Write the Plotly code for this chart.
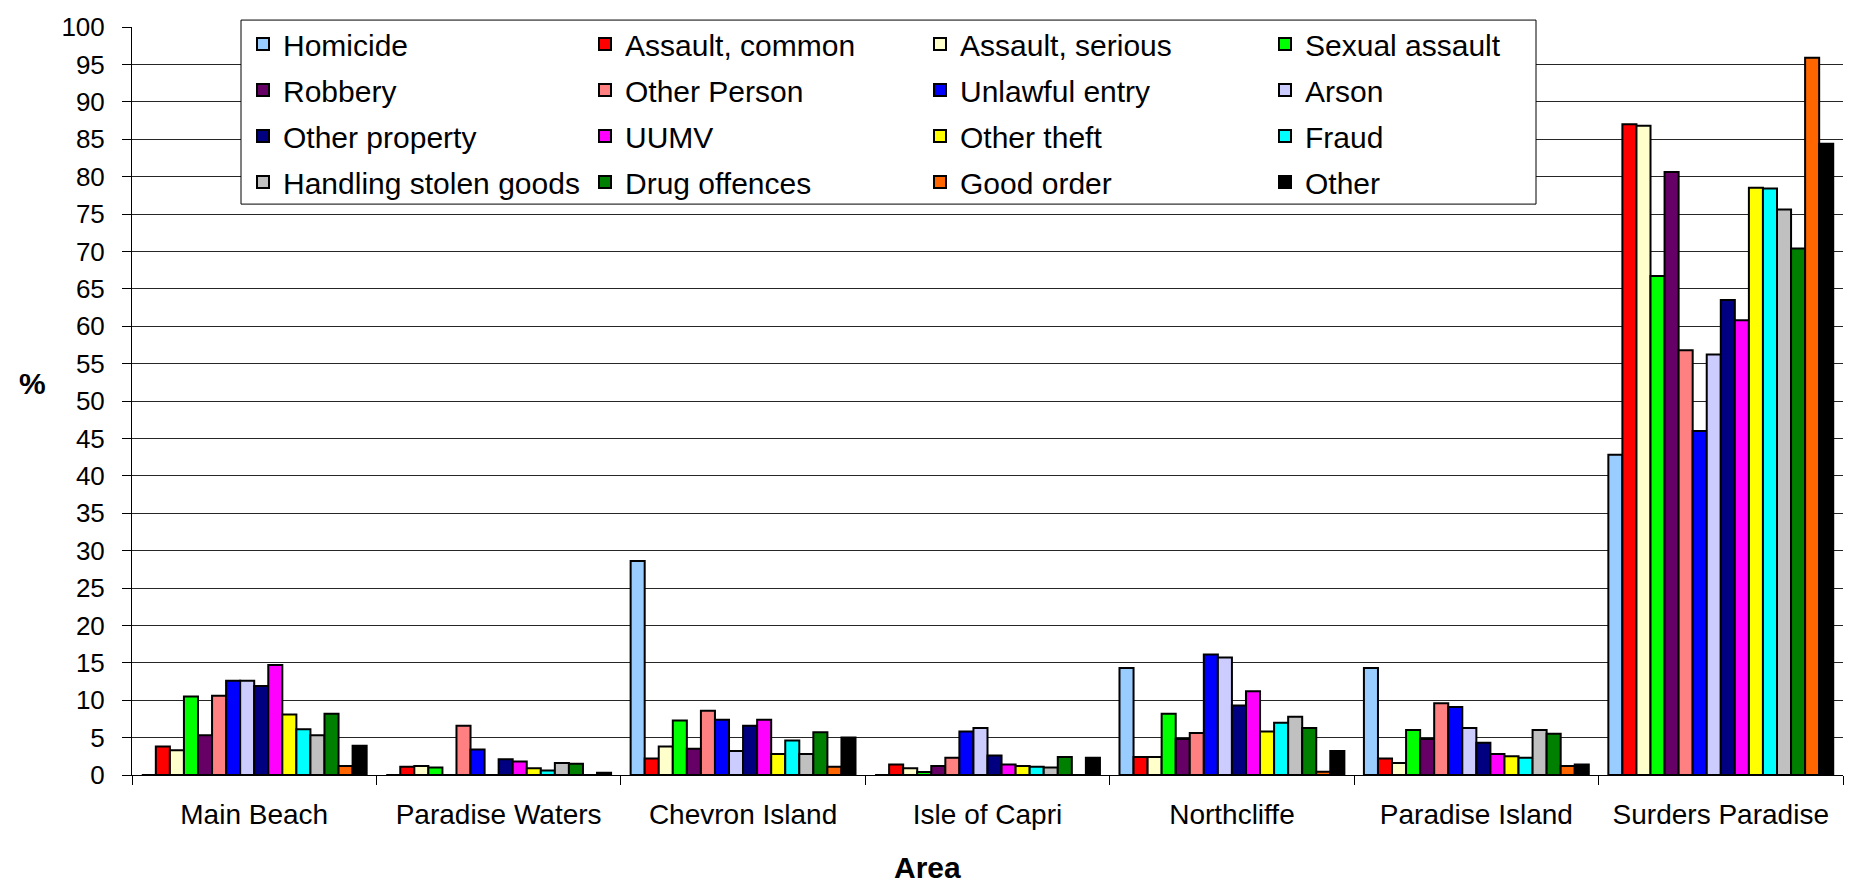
import plotly.graph_objects as go

# Areas along the x axis
areas = ["Main Beach", "Paradise Waters", "Chevron Island", "Isle of Capri",
         "Northcliffe", "Paradise Island", "Surders Paradise"]

# Offence categories and their fill colours
offences = ["Homicide", "Assault, common", "Assault, serious", "Sexual assault",
            "Robbery", "Other Person", "Unlawful entry", "Arson",
            "Other property", "UUMV", "Other theft", "Fraud",
            "Handling stolen goods", "Drug offences", "Good order", "Other"]
colors = ["#99CCFF", "#FF0000", "#FFFFCC", "#00FF00",
          "#660066", "#FF8080", "#0000FF", "#CCCCFF",
          "#000080", "#FF00FF", "#FFFF00", "#00FFFF",
          "#C0C0C0", "#008000", "#FF6600", "#000000"]

# Share of each offence recorded in each area (%)
homicide         = [0.0, 0.0, 28.6, 0.0, 14.3, 14.3, 42.8]
assault_common   = [3.8, 1.1, 2.2, 1.4, 2.4, 2.2, 87.0]
assault_serious  = [3.3, 1.2, 3.8, 0.9, 2.4, 1.6, 86.8]
sexual_assault   = [10.5, 1.0, 7.3, 0.4, 8.2, 6.0, 66.7]
robbery          = [5.3, 0.0, 3.5, 1.2, 4.8, 4.8, 80.6]
other_person     = [10.6, 6.6, 8.6, 2.3, 5.6, 9.6, 56.8]
unlawful_entry   = [12.6, 3.4, 7.4, 5.8, 16.1, 9.1, 46.0]
arson            = [12.6, 0.0, 3.2, 6.3, 15.7, 6.3, 56.2]
other_property   = [11.9, 2.1, 6.6, 2.6, 9.3, 4.3, 63.5]
uumv             = [14.7, 1.8, 7.4, 1.4, 11.2, 2.8, 60.8]
other_theft      = [8.1, 0.9, 2.8, 1.2, 5.8, 2.5, 78.5]
fraud            = [6.1, 0.6, 4.6, 1.1, 7.0, 2.3, 78.4]
handling_stolen  = [5.3, 1.6, 2.8, 1.0, 7.8, 6.0, 75.6]
drug_offences    = [8.2, 1.5, 5.7, 2.4, 6.3, 5.5, 70.4]
good_order       = [1.2, 0.0, 1.1, 0.0, 0.45, 1.2, 95.9]
other            = [3.9, 0.3, 5.0, 2.3, 3.2, 1.4, 84.4]

series = [homicide, assault_common, assault_serious, sexual_assault,
          robbery, other_person, unlawful_entry, arson,
          other_property, uumv, other_theft, fraud,
          handling_stolen, drug_offences, good_order, other]

y_ticks = list(range(0, 101, 5))

# Page geometry (pixels) and helpers to convert to paper coordinates
W, H = 1856, 883
L, R, T, B = 132, 13, 19, 108
PW, PH = W - L - R, H - T - B


def px_x(x):
    return (x - L) / PW


def px_y(y):
    return (H - B - y) / PH


FONT = "Liberation Sans, Arial, sans-serif"

fig = go.Figure()
for i, (name, vals, col) in enumerate(zip(offences, series, colors)):
    leg = "legend" if i % 4 == 0 else f"legend{i % 4 + 1}"
    fig.add_trace(go.Bar(
        x=areas, y=vals, name=name,
        marker=dict(color=col, line=dict(color="black", width=2)),
        legend=leg, legendgroup=name,
    ))

# Legend frame
box_l, box_r, box_t, box_b = 241, 1536, 12, 198
fig.add_shape(type="rect", xref="paper", yref="paper",
              x0=px_x(box_l), x1=px_x(box_r), y0=px_y(box_b), y1=px_y(box_t),
              line=dict(color="black", width=1), fillcolor="white", layer="above")

legend_cols = [255, 597, 932, 1277]
legends = {}
for k, sx in enumerate(legend_cols):
    key = "legend" if k == 0 else f"legend{k + 1}"
    legends[key] = dict(
        x=px_x(sx - 12), y=px_y(box_t - 2), xanchor="left", yanchor="top",
        orientation="v", traceorder="grouped", tracegroupgap=4,
        font=dict(family=FONT, size=30, color="black"),
        bgcolor="rgba(0,0,0,0)", borderwidth=0,
    )

fig.update_layout(
    width=W, height=H,
    margin=dict(l=L, r=R, t=T, b=B, pad=0),
    paper_bgcolor="white", plot_bgcolor="white",
    barmode="group", bargap=0.08, bargroupgap=0,
    font=dict(family=FONT, color="black"),
    showlegend=True,
    **legends,
)

fig.update_xaxes(
    type="category", showline=True, linecolor="black", linewidth=1,
    ticks="outside", tickson="boundaries", ticklen=9, tickcolor="black",
    showgrid=False, tickfont=dict(family=FONT, size=28, color="black"),
    ticklabelstandoff=14,
)
fig.update_yaxes(
    range=[0, 100], tickvals=y_ticks, showline=True, linecolor="black",
    linewidth=1, ticks="outside", ticklen=9, tickcolor="black",
    showgrid=True, gridcolor="#262626", gridwidth=1, zeroline=False,
    tickfont=dict(family=FONT, size=26, color="black"),
    ticklabelstandoff=12,
)

fig.add_annotation(text="<b>%</b>", xref="paper", yref="paper",
                   x=px_x(32), y=px_y(379), xanchor="center", yanchor="middle",
                   showarrow=False,
                   font=dict(family=FONT, size=30, color="black"))
fig.add_annotation(text="<b>Area</b>", xref="paper", yref="paper",
                   x=px_x(927), y=px_y(868), xanchor="center", yanchor="middle",
                   showarrow=False,
                   font=dict(family=FONT, size=30, color="black"))

fig.write_html("out.html")
